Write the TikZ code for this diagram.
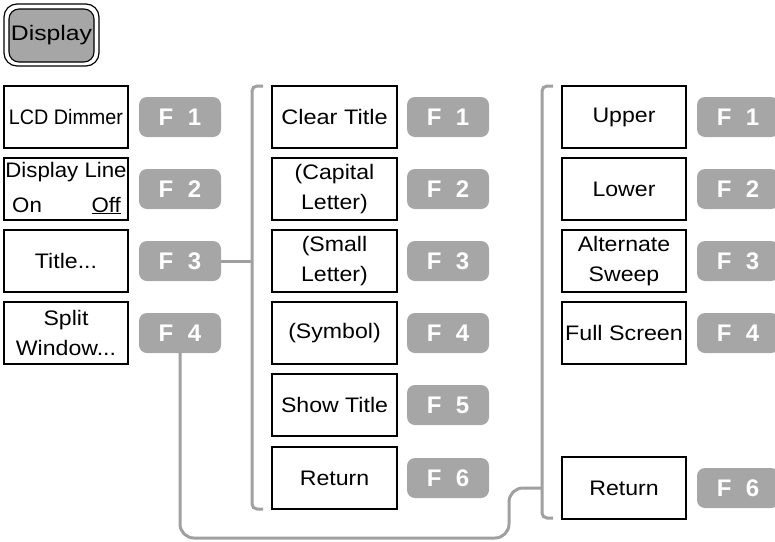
\documentclass[tikz,border=0pt]{standalone}
\usepackage{fontspec}
\setmainfont{Liberation Sans}
\usepackage{graphicx}
\definecolor{keygray}{HTML}{A6A6A6}
\definecolor{wiregray}{HTML}{A0A0A0}
\newcommand{\wx}[2][1.1]{\scalebox{#1}[1]{#2}}
\tikzset{
  menubox/.style={draw=black, line width=1.1pt, fill=white, minimum width=124pt,
    minimum height=62pt, inner sep=0pt, align=center,
    font=\fontsize{21}{29.5}\selectfont},
  fkey/.style={fill=keygray, rounded corners=8pt, minimum width=82pt,
    minimum height=40pt, inner sep=0pt, text=white,
    font=\fontsize{24}{28}\selectfont\bfseries},
  wire/.style={draw=wiregray, line width=3pt},
}
\newcommand{\fk}[1]{F\hspace{14.5pt}#1}
\begin{document}
\begin{tikzpicture}[x=1pt, y=-1pt]
\useasboundingbox (0,0) rectangle (775,541);
\clip (0,0) rectangle (775,541);

% Display hard key
\node[draw=black, line width=1.2pt, fill=white, rounded corners=13pt,
      minimum width=95pt, minimum height=62pt] (dispout) at (51.5,35) {};
\node[draw=black, line width=1.1pt, fill=keygray, rounded corners=10pt,
      minimum width=85pt, minimum height=53pt, inner sep=0pt,
      font=\fontsize{21}{25}\selectfont] (disp) at (51.5,35.5) {\wx[1.18]{Display}};

% Brackets grouping the sub menus
\coordinate (b1top) at (263,86);
\coordinate (b1bot) at (263,509);
\coordinate (b1mid) at (252,261);
\draw[wire, rounded corners=5pt] (b1top) -| (252,300) |- (b1bot);
\coordinate (b2top) at (553,86);
\coordinate (b2bot) at (553,518);
\coordinate (b2mid) at (542,488);
\draw[wire, rounded corners=5pt] (b2top) -| (542,300) |- (b2bot);

% Top level menu
\node[menubox] (lcd) at (66,117) {\wx[0.94]{LCD Dimmer}};
\node[menubox] (dline) at (66,189) {};
\node[font=\fontsize{21}{25}\selectfont, anchor=base] (dlinet) at (66,177) {\wx[1.06]{Display Line}};
\node[font=\fontsize{21}{25}\selectfont, anchor=base west, inner sep=0pt] (don) at (12,212) {\wx[1.06]{On}};
\node[font=\fontsize{21}{25}\selectfont, anchor=base east, inner sep=0pt] (doff) at (121,212) {\wx[1.06]{\underline{Off}}};
\node[menubox] (title) at (66,261) {\wx{Title...}};
\node[menubox] (split) at (66,333) {\wx{Split}\\\wx{Window...}};

\node[fkey] (lf1) at (180,117) {\fk{1}};
\node[fkey] (lf2) at (180,189) {\fk{2}};
\node[fkey] (lf3) at (180,261) {\fk{3}};
\node[fkey] (lf4) at (180,333) {\fk{4}};

% Title sub menu
\node[menubox, minimum width=125pt] (clr) at (334.5,117) {\wx[1.12]{Clear Title}};
\node[menubox, minimum width=125pt] (cap) at (334.5,189) {\wx{(Capital}\\\wx{Letter)}};
\node[menubox, minimum width=125pt] (sml) at (334.5,261) {\wx{(Small}\\\wx{Letter)}};
\node[menubox, minimum width=125pt] (sym) at (334.5,333) {\wx{(Symbol)}};
\node[menubox, minimum width=125pt] (show) at (334.5,405) {\wx{Show Title}};
\node[menubox, minimum width=125pt] (ret1) at (334.5,478) {\wx{Return}};

\node[fkey] (mf1) at (448,117) {\fk{1}};
\node[fkey] (mf2) at (448,189) {\fk{2}};
\node[fkey] (mf3) at (448,261) {\fk{3}};
\node[fkey] (mf4) at (448,333) {\fk{4}};
\node[fkey] (mf5) at (448,405) {\fk{5}};
\node[fkey] (mf6) at (448,478) {\fk{6}};

% Split Window sub menu
\node[menubox] (upper) at (624,117) {\wx{Upper}};
\node[menubox] (lower) at (624,189) {\wx{Lower}};
\node[menubox] (alt) at (624,261) {\wx{Alternate}\\\wx{Sweep}};
\node[menubox] (full) at (624,333) {\wx[1.11]{Full Screen}};
\node[menubox] (ret2) at (624,488) {\wx{Return}};

\node[fkey] (rf1) at (738,117) {\fk{1}};
\node[fkey] (rf2) at (738,189) {\fk{2}};
\node[fkey] (rf3) at (738,261) {\fk{3}};
\node[fkey] (rf4) at (738,333) {\fk{4}};
\node[fkey] (rf6) at (738,488) {\fk{6}};

% Links from the soft keys to their sub menus
\draw[wire] (lf3.east) -- (b1mid);
\draw[wire, rounded corners=14pt] (lf4.south) -- (180,538) -- (509,538) -- (509,488) -- (b2mid);
\end{tikzpicture}
\end{document}
